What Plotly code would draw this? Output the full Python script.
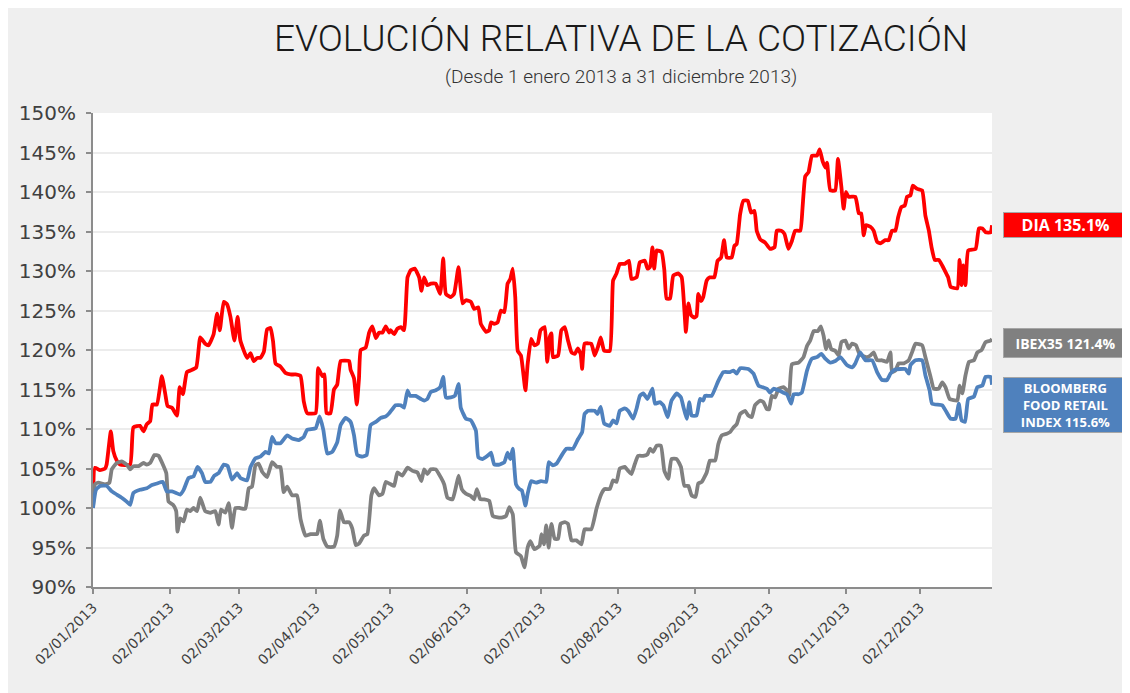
import pandas as pd
import plotly.graph_objects as go

START = pd.Timestamp("2013-01-02")

# Days elapsed since 02/01/2013 and relative value (%)
dia_day = [0, 0.8, 2.8, 4.9, 5.5, 7.2, 8.2, 9.6, 10.9, 15, 16.3, 19, 20.4, 21.7, 23.1, 24, 25.8, 27.8, 29.2, 30.1, 31.9, 33.9, 35, 36.3, 37.9, 39.3, 41.7, 43.3, 45.3, 46.7, 48.7, 50.1, 51.2, 52.8, 54.1, 55.5, 57.1, 58.4, 59.5,
           62.2, 63.6, 64.9, 66.3, 67.6, 69, 70.3, 71.7, 72.7, 73.7, 75.7, 77.7, 79.7, 81.8, 83.8, 85.1, 86.5, 89.9, 90.9, 91.9, 92.6, 93.5, 94.3, 95.9, 97.3, 98.6, 100, 103.4, 104, 105.4, 106.5, 107.4, 108.1, 110.1, 111.5, 112.8, 114.2, 115.5, 116.9, 118.2, 119.6,
           120.2, 121.6, 122.9, 124.3, 125.6, 127, 128.3, 129.9, 131.7, 132.6, 133.7, 135, 136.4, 138.4, 140.2, 141.4, 142.5, 144.5, 145.8, 147.6, 149.2, 150.6, 152.6, 153.9, 155.6, 156.6, 158.7, 160, 160.7, 162, 163.4, 164.7, 166.1, 167.4, 168.5, 169.5, 170.5, 171.5, 172.8, 174.6, 175.5, 176.9, 178.2, 179.6, 180.7,
           182.4, 183.4, 184.4, 185.1, 185.7, 187.8, 189.1, 190.5, 191.8, 193.2, 194.5, 195.8, 196.9, 197.5, 198.5, 201.2, 202.6, 203.9, 205, 206.4, 208.7, 210, 211.4, 212.7, 214.7, 216.4, 217.4, 219.5, 220.8, 222.8, 223.9, 224.9, 225.9, 226.6, 227.6, 229.6, 230.7, 231.6, 233, 234.3, 236.3, 237.7, 238.8, 239.4, 240.4, 241.5,
           242.8, 243.7, 244.4, 245.5, 246.4, 247.8, 249.1, 250.9, 252.2, 253.6, 254.8, 255.9, 257.9, 259, 259.9, 261.3, 262.6, 264.4, 265.7, 267.1, 268, 269.4, 271.4, 273.4, 275.2, 276.1, 277.9, 279.2, 280.8, 282.2, 283.5, 285.6, 286.5, 287.6, 288.9, 290.3, 292.3, 293.4, 294.6, 295.7, 296.4, 297.7, 299.7, 300.8, 302.2,
           303.1, 304, 305.1, 307.8, 308.5, 309.2, 310.2, 311.2, 312.1, 313.9, 315.2, 316.6, 317.9, 319.9, 321.3, 322.6, 324, 325.1, 326.4, 327.8, 328.7, 330.1, 331, 332.8, 334.8, 336.1, 337.5, 338.6, 339.9, 341.5, 342.9, 344.2, 345.3, 346.3, 349, 349.9, 350.7, 351.4, 352.3, 353.4, 356.4, 357.7, 359.1, 360.4, 362.5, 363]
dia_val = [100, 105.1, 104.8, 105, 105.5, 109.7, 107.2, 106, 105.5, 105.5, 110.2, 110.4, 109.7, 110.6, 111, 113.1, 113.1, 116.7, 114.4, 112.9, 112.7, 111.7, 115.3, 114.4, 117.2, 117.4, 117.8, 121.6, 120.8, 120.6, 122, 124.6, 122.5, 126.1, 125.8, 124.2, 121.2, 124.2, 121.2,
           119, 119.6, 118.6, 119, 119, 119.8, 122.6, 122.8, 121.1, 118.3, 117.9, 117.1, 116.9, 116.9, 116.7, 113.5, 112, 112, 117.7, 117.1, 116.7, 116.9, 112, 112, 115, 115.6, 118.6, 118.6, 117.5, 116.4, 113.1, 116.4, 120, 120.3, 122.2, 123, 121.5, 122.2, 122.2, 123, 122.2,
           122.5, 122, 122.7, 122.9, 122.5, 129.2, 130.1, 130.3, 129.2, 127.5, 129.2, 128.2, 128.4, 128.4, 127.1, 131.6, 127.1, 126.7, 127.1, 130.5, 125.9, 126.3, 126.1, 125.2, 125.4, 123.3, 122.3, 122.5, 123.5, 123.3, 123.5, 125, 124.8, 128.4, 129, 130.3, 126.7, 119.9, 119.3, 114.9, 118.2, 121.4, 120.6, 120.8, 122.5,
           122.9, 118.5, 121.6, 122.1, 119.1, 119.3, 122.5, 122.9, 121.2, 119.7, 119.5, 120.2, 119.5, 117.6, 120.8, 120.8, 119.3, 120.4, 121.6, 119.9, 119.9, 128.8, 129.7, 130.9, 130.9, 131.3, 129, 129.2, 131.1, 131.3, 130.3, 130.5, 133, 130.3, 132.6, 132.4, 130.1, 126.5, 126.5, 129.4, 129.7, 129.2, 125, 122.3, 125.9, 124.4,
           124.1, 124.3, 127.1, 126.2, 126.7, 128.8, 129.2, 129.2, 131.3, 131.7, 133.9, 131.7, 131.7, 133.2, 133.4, 137.2, 138.9, 138.9, 137.4, 137.6, 135.1, 134, 133.6, 132.8, 133, 135.1, 135.1, 134.7, 132.8, 133.8, 135.1, 135.1, 138, 142, 142.5, 144.6, 144.6, 145.4, 143.9, 143.1, 143.7, 140.2, 140.2, 144.2, 140.6,
           137.9, 140, 139.4, 139.4, 138.5, 137.3, 137.3, 134.5, 135.8, 135.6, 135.1, 133.7, 133.5, 133.9, 133.9, 135.1, 135.1, 136.8, 138.1, 138.3, 139.4, 139.6, 140.8, 140.4, 140.2, 137, 135.1, 133, 131.4, 131.4, 130.7, 129.9, 129.2, 128, 127.8, 131.4, 128.2, 130.7, 128.2, 132.6, 132.8, 135.4, 135.4, 134.9, 134.9, 135.8]

ibex_day = [0, 0.8, 2.2, 4.9, 6.6, 7.6, 9.6, 11.6, 13.6, 15, 16.3, 18.4, 20.4, 21.7, 23.1, 24.8, 26.5, 28.2, 29.6, 30.5, 32.3, 33.6, 34.1, 35.2, 36.6, 37.9, 39.3, 40.6, 42, 43.3, 45.3, 47.4, 49.4, 50.7, 51.7, 53.4, 54.8, 56.1, 57.5, 59.2,
            61.5, 62.9, 64.2, 65.6, 66.9, 68.3, 70.3, 72.3, 74.3, 75.7, 77, 78.4, 80.4, 82.4, 83.8, 85.8, 87.8, 90.5, 91.6, 93, 94.6, 97.3, 98.6, 99.7, 101.3, 103.4, 104.7, 106.1, 107.4, 109.4, 110.8, 112.4, 113.5, 115.5, 116.9, 118.2, 119.6,
            120.2, 121.6, 122.9, 124.9, 127, 129, 131, 132.6, 133.7, 135, 136.4, 138.4, 140.4, 141.8, 143.1, 145.2, 146.5, 147.6, 148.9, 150.6, 152.6, 153.9, 155, 156.4, 158, 160, 161.4, 163.4, 165.4, 166.8, 168.1, 169.5, 170.8, 172.8, 174.2, 175.5, 176.6, 178.2, 180.3,
            181.1, 182.1, 183, 184, 185.1, 186.4, 187.8, 188.8, 190.5, 191.8, 193.2, 195.2, 197.2, 198.5, 201.2, 203.3, 205.3, 206.6, 208.7, 210, 211.4, 212.7, 214.7, 216.1, 217.4, 218.8, 220.1, 222.2, 223.9, 224.9, 226.2, 227.6, 229.3, 230.7, 232.3, 233.6, 235.7, 237.4, 238.8, 240.4, 241.7,
            243.3, 244.4, 245.8, 247.8, 249.1, 251.2, 252.5, 253.9, 255.9, 257.2, 258.6, 259.9, 261.3, 263.3, 264.6, 266, 267.3, 269.4, 270.7, 272.1, 273, 274.1, 275.4, 276.8, 278.8, 280.2, 281.1, 282.2, 284.9, 286.9, 288.3, 289.6, 291, 292.7, 293.9, 295, 296, 297, 298.1, 299.7, 301.1, 302.2,
            303.8, 305.1, 306.5, 308.1, 309.2, 310.5, 312.5, 313.9, 315.2, 316.6, 318.6, 320.6, 322, 322.6, 324, 325.3, 327.4, 329.4, 330.7, 332.1, 334.8, 336.1, 338.2, 339.5, 341.5, 342.9, 344.2, 345.9, 349, 349.9, 351, 352.3, 353.7, 355.7, 357.1, 358.8, 360.4, 362.5, 363]
ibex_val = [100, 103, 103.2, 103, 103.2, 104.9, 105.7, 105.9, 105.5, 104.9, 105.3, 105.3, 105.7, 105.5, 105.7, 106.7, 106.6, 105.5, 104.4, 100.8, 100.4, 99.6, 97, 98.7, 98.3, 99.8, 99.6, 100, 99.6, 101.3, 99.6, 99.4, 99.6, 97.9, 99.8, 99.4, 100.6, 97.5, 100, 100,
            99.9, 102.5, 102.7, 105.4, 105.6, 104.6, 103.9, 105.8, 105.2, 105.2, 102, 102.7, 101.6, 101.6, 98.6, 96.5, 96.7, 96.7, 98.4, 96.1, 95.1, 95.1, 96.5, 99.7, 98.2, 98.2, 97.4, 95.3, 95.5, 96.5, 96.7, 101.6, 102.5, 101.6, 101.8, 103.3, 103.1,
            103, 102.8, 104.5, 104.1, 105.1, 104.7, 104.5, 103.4, 104.9, 104.3, 104.9, 104.9, 103.9, 103, 101.3, 101.1, 102.6, 104.1, 102.4, 101.8, 101.5, 101.1, 102.4, 101.1, 101.1, 100.9, 99, 98.8, 98.8, 99, 100.1, 99.2, 94.4, 93.9, 92.5, 95, 95.8, 94.8, 95.2,
            96.7, 95.4, 97.8, 95, 98, 96.1, 96.1, 98, 98.2, 98, 95.9, 95.9, 95.4, 97.3, 97.3, 99.9, 101.8, 102.4, 102.4, 103.5, 103.3, 105, 105.2, 104.7, 104.3, 105.6, 106.6, 106.6, 106.8, 107.5, 107.1, 107.9, 107.9, 104.7, 103.7, 106.2, 106.2, 105.2, 102.8, 102.8, 101.6,
            101.4, 103.1, 103.3, 104.5, 106, 106, 108.1, 109.2, 109.4, 109.6, 110.2, 110.6, 111.9, 112.3, 111.7, 111.5, 113, 113.6, 113.4, 112.5, 112.5, 114.2, 114, 115.1, 115.3, 114.9, 114.2, 118.2, 118.4, 119.1, 120.5, 121.2, 122.4, 122.4, 123, 121.8, 120.1, 121.2, 120.1, 119.9, 119.3, 121,
            121.2, 120.2, 120.8, 120.6, 119.7, 119.3, 119.1, 119.3, 119.7, 118.7, 118.7, 118.5, 119.7, 117.2, 117.4, 118.3, 118.3, 118.7, 119.7, 120.8, 120.6, 119.1, 116.6, 115.1, 115.1, 115.9, 115.3, 113.8, 113.6, 115.5, 114.5, 116.8, 118.5, 118.7, 119.7, 120, 121, 121.2, 121.4]

bbg_day = [0, 1.2, 2.8, 5.5, 7.6, 9.6, 11.6, 13.6, 15, 16.3, 19, 21.7, 23.8, 25.8, 28.2, 29.8, 31.9, 33.6, 35.2, 36.6, 38.6, 40.6, 42.2, 44, 45.3, 47.4, 49, 50.7, 52.8, 54.4, 56.1, 58.2, 59.5,
           62.2, 63.6, 65.6, 67.6, 69.6, 71, 72.3, 73.7, 75.7, 78.4, 80.4, 83.1, 85.1, 86.5, 89.9, 91.5, 93, 94.6, 96.6, 98.6, 100, 102, 104, 105.4, 106.7, 108.8, 110.5, 112.1, 114.2, 116.2, 118.2, 119.6,
           122.2, 124.3, 125.6, 127, 128, 130.3, 132.4, 133.7, 135, 136.4, 138.4, 140.2, 141.4, 142.5, 144.5, 146.1, 147.6, 148.5, 150.6, 152.6, 154.6, 155.6, 157.3, 159.3, 160.7, 162, 164.1, 166.1, 167.4, 168.5, 169.5, 170.8, 172.2, 173.2, 174.6, 175.5, 176.9, 178.9, 180.9,
           183, 184, 185.7, 187.1, 189.1, 191.1, 193.8, 195.8, 197.5, 198.5, 199.9, 202.6, 203.7, 205, 206.4, 208.7, 210, 211.4, 212.7, 214.7, 216.1, 218.1, 219.5, 220.8, 222.2, 223.9, 225.9, 226.9, 228.9, 230.3, 232, 233.6, 235.7, 237.4, 238.4, 239.7, 240.8, 241.7,
           243.7, 245.1, 246.4, 247.1, 249.8, 252.5, 254.5, 257.2, 258.6, 259.9, 261.3, 264.6, 266.7, 268.7, 272.1, 273.4, 274.8, 276.8, 278.8, 280.2, 281.9, 282.9, 284.9, 286.2, 288.3, 290.3, 292.3, 294.1, 295.7, 297.7, 299.7, 301.8,
           304.4, 306.5, 307.8, 309.8, 311.9, 314.6, 316.6, 318.6, 320.6, 322, 323.7, 328, 329.4, 330.1, 332.1, 334.8, 336.1, 337.8, 338.8, 342.9, 344.5, 346.3, 348.3, 349.6, 350.7, 352.1, 353.4, 355.7, 357.1, 359.1, 360.4, 362.5, 363]
bbg_val = [100, 102.3, 102.8, 102.8, 102.1, 101.7, 101.3, 100.8, 100.4, 101.9, 102.3, 102.5, 102.9, 103.1, 103.3, 102.1, 102.1, 101.9, 101.7, 102.3, 103.8, 104, 105.2, 104.4, 103.3, 103.3, 104.1, 104.4, 105.5, 105.3, 103.6, 104.4, 103.8,
           103.5, 105.2, 106.3, 106.5, 107.1, 106.9, 109, 108.2, 108.2, 109.2, 108.8, 108.6, 109, 109.9, 110.1, 111.6, 109.9, 106.9, 107.1, 108.3, 110.5, 111.4, 110.9, 109.2, 106.7, 106.5, 106.7, 110.5, 110.9, 111.4, 111.6, 112,
           113, 113, 112.7, 114.9, 114.2, 114.2, 113.8, 113.6, 113.8, 114.7, 114.9, 115.3, 116.6, 114, 114, 114.2, 115.7, 112.7, 111.3, 111.1, 109.8, 106.4, 106.2, 106.6, 107, 105.5, 105.5, 105.8, 107, 106.2, 107.5, 103, 102.4, 102.2, 100.3, 101.8, 103.4, 103.2, 103.4,
           103.3, 105.8, 105.4, 105.6, 106.6, 107.5, 107.5, 108.7, 109.6, 111.9, 112.3, 112.3, 111.9, 112.8, 110.7, 110.4, 111.1, 110.7, 112.3, 112.6, 112.3, 111.3, 112.6, 114.2, 114.5, 113.8, 115.1, 113.2, 113.4, 113, 111.5, 113.6, 114.5, 114, 112.8, 111.3, 113.4, 111.7,
           111.7, 113.8, 113.6, 114.2, 114.2, 116.1, 117.2, 117.2, 117.4, 117, 117.7, 117.6, 117, 115.5, 115.1, 114.6, 115.1, 114.9, 114.6, 114.4, 113.2, 114.4, 114.4, 114.6, 117.4, 118.9, 119.1, 119.5, 118.9, 118.4, 118.6, 119.1,
           118.1, 117.8, 118.3, 119.7, 118.7, 118.7, 117.2, 116.2, 116.2, 117, 117.5, 117.6, 117, 118.1, 118.7, 118.7, 116.8, 114.9, 113.2, 113, 112.2, 111.3, 111.3, 113.2, 111.1, 110.9, 113.8, 114.1, 115.3, 115.5, 116.6, 116.6, 115.6]

tick_dates = ["2013-01-02", "2013-02-02", "2013-03-02", "2013-04-02", "2013-05-02", "2013-06-02",
              "2013-07-02", "2013-08-02", "2013-09-02", "2013-10-02", "2013-11-02", "2013-12-02"]
tick_text = ["02/01/2013", "02/02/2013", "02/03/2013", "02/04/2013", "02/05/2013", "02/06/2013",
             "02/07/2013", "02/08/2013", "02/09/2013", "02/10/2013", "02/11/2013", "02/12/2013"]
y_ticks = [90, 95, 100, 105, 110, 115, 120, 125, 130, 135, 140, 145, 150]
y_text = ["90%", "95%", "100%", "105%", "110%", "115%", "120%", "125%", "130%", "135%", "140%", "145%", "150%"]

labels = ["DIA 135.1%", "IBEX35 121.4%", "BLOOMBERG<br>FOOD RETAIL<br>INDEX 115.6%"]
label_y = [135.8, 120.9, 113.0]
label_h = [18, 22, 48]
label_size = [16, 14, 13]
colors = ["#ff0000", "#808080", "#4f81bd"]


def to_dates(days):
    return START + pd.to_timedelta(days, unit="D")


fig = go.Figure()
for name, d, v, c in [("DIA", dia_day, dia_val, colors[0]),
                      ("IBEX35", ibex_day, ibex_val, colors[1]),
                      ("BLOOMBERG FOOD RETAIL INDEX", bbg_day, bbg_val, colors[2])]:
    fig.add_trace(go.Scatter(x=to_dates(d), y=v, mode="lines", name=name,
                             line=dict(color=c, width=3.8, shape="spline", smoothing=0.4),
                             showlegend=False))

for txt, yv, h, fs, c in zip(labels, label_y, label_h, label_size, colors):
    fig.add_annotation(x=1.0122, xref="paper", y=yv, yref="y", xanchor="left", yanchor="middle",
                       text=txt, showarrow=False, align="center",
                       font=dict(family="Open Sans", size=fs, color="white", weight="bold"),
                       bgcolor=c, bordercolor="#a6a6a6", borderwidth=1, borderpad=3,
                       width=117, height=h)

fig.add_annotation(x=0.587, xref="paper", y=1.158, yref="paper", xanchor="center", yanchor="middle",
                   text="EVOLUCIÓN RELATIVA DE LA COTIZACIÓN", showarrow=False,
                   font=dict(family="Roboto", size=37, color="#1a1a1a", weight=300))
fig.add_annotation(x=0.587, xref="paper", y=1.076, yref="paper", xanchor="center", yanchor="middle",
                   text="(Desde 1 enero 2013 a 31 diciembre 2013)", showarrow=False,
                   font=dict(family="Roboto", size=19, color="#333333", weight=300))

fig.update_layout(
    width=1130, height=693,
    margin=dict(l=85, r=146, t=105, b=114),
    paper_bgcolor="#efefef", plot_bgcolor="white",
    showlegend=False,
    xaxis=dict(type="date", range=[START, pd.Timestamp("2013-12-31")],
               tickmode="array", tickvals=tick_dates, ticktext=tick_text, tickangle=-45,
               tickfont=dict(family="DejaVu Sans", size=14, color="#404040"),
               showgrid=False, showline=True, linecolor="#8c8c8c", linewidth=2,
               ticks="outside", ticklen=5, tickcolor="#8c8c8c", tickwidth=2, zeroline=False),
    yaxis=dict(range=[90, 150], tickmode="array", tickvals=y_ticks, ticktext=y_text,
               tickfont=dict(family="DejaVu Sans", size=20, color="#404040"),
               ticklabelstandoff=6,
               showgrid=True, gridcolor="#ececec", gridwidth=2,
               showline=True, linecolor="#8c8c8c", linewidth=2,
               ticks="outside", ticklen=5, tickcolor="#8c8c8c", tickwidth=2, zeroline=False),
)

fig.write_html("out.html")
